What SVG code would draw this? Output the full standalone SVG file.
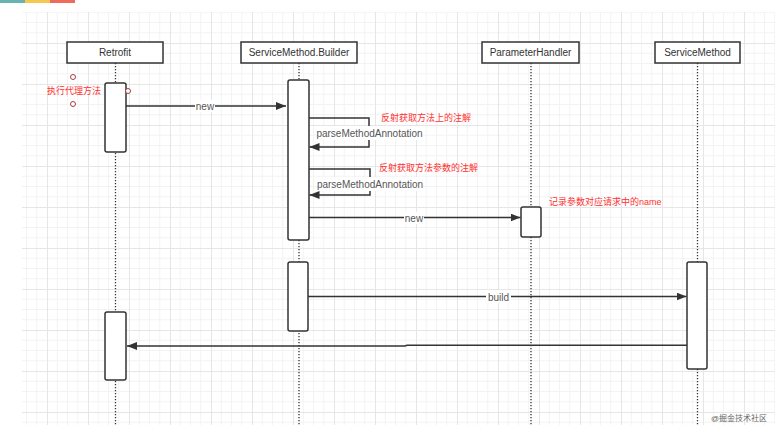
<svg xmlns="http://www.w3.org/2000/svg" width="775" height="430" viewBox="0 0 775 430">
<style>
.box{fill:#fff;stroke:#333;stroke-width:1.5}
.act{fill:#fff;stroke:#333;stroke-width:1.5}
.life{stroke:#333;stroke-width:1.3;stroke-dasharray:1.3 1.7;fill:none}
.msg{stroke:#333;stroke-width:1.5;fill:none}
.t{font-family:"Liberation Sans",Arial,sans-serif;font-size:10px;fill:#333;text-anchor:middle;dominant-baseline:central}
.lbl{font-family:"Liberation Sans",Arial,sans-serif;font-size:10px;fill:#555;text-anchor:middle;dominant-baseline:central}
.red{font-family:"Liberation Sans","Noto Sans CJK SC",sans-serif;font-size:9px;fill:#ff3030;dominant-baseline:central}
.dot{fill:#fff;stroke:#a04040;stroke-width:1}
</style>
<defs>
<pattern id="grid" patternUnits="userSpaceOnUse" x="6" y="2" width="41" height="41">
<path d="M10.25 0V41M20.5 0V41M30.75 0V41M0 10.25H41M0 20.5H41M0 30.75H41" stroke="#f3f3f3" stroke-width="1" fill="none"/>
<path d="M0.5 0V41M0 0.5H41" stroke="#e6e6e6" stroke-width="1" fill="none"/>
</pattern>
<marker id="arr" viewBox="0 0 10 8" refX="10" refY="4" markerWidth="10" markerHeight="8" markerUnits="userSpaceOnUse" orient="auto">
<path d="M0 0L10 4L0 8Z" fill="#333"/>
</marker>
</defs>
<rect width="775" height="430" fill="#fff"/>
<rect x="22" y="12" width="753" height="413" fill="url(#grid)"/>
<rect x="0" y="0" width="25" height="3" fill="#67b4b0"/>
<rect x="25" y="0" width="25" height="3" fill="#f5c94f"/>
<rect x="50" y="0" width="25" height="3" fill="#ef6b5b"/>

<g id="lifelines">
<path class="life" d="M115.5 63V425M299 63V425M531 63V425M697.5 63V425"/>
</g>

<g id="retrofit">
<rect class="box" x="67" y="42" width="96" height="21"/>
<text class="t" x="115" y="52.5">Retrofit</text>
<rect class="act" x="105" y="83" width="21" height="69" rx="2"/>
<rect class="act" x="105" y="312" width="21" height="68" rx="2"/>
<circle class="dot" cx="73" cy="77" r="2.5"/>
<circle class="dot" cx="73" cy="104" r="2.5"/>
<circle class="dot" cx="128" cy="91" r="2.5"/>
<text class="red" x="47" y="91">执行代理方法</text>
</g>

<g id="builder">
<rect class="box" x="241" y="42" width="116" height="21"/>
<text class="t" x="299" y="52.5">ServiceMethod.Builder</text>
<rect class="act" x="288" y="80" width="21" height="160" rx="2"/>
<rect class="act" x="288" y="262" width="20" height="69" rx="2"/>
</g>

<g id="parameterhandler">
<rect class="box" x="482" y="42" width="97" height="21"/>
<text class="t" x="530.5" y="52.5">ParameterHandler</text>
<rect class="act" x="521" y="207" width="20" height="30" rx="2"/>
<text class="red" x="549" y="202">记录参数对应请求中的name</text>
</g>

<g id="servicemethod">
<rect class="box" x="655" y="42" width="85" height="21"/>
<text class="t" x="697.5" y="52.5">ServiceMethod</text>
<rect class="act" x="687" y="262" width="20" height="107" rx="2"/>
</g>

<g id="connectors">
<path class="msg" d="M126 106H286" marker-end="url(#arr)"/>
<rect x="195" y="100" width="20" height="12" fill="#fff"/>
<text class="lbl" x="205" y="106">new</text>

<path class="msg" d="M309 118H369V147H309.5" marker-end="url(#arr)"/>
<rect x="317" y="126" width="105" height="14" fill="#fff"/>
<text class="lbl" x="369.5" y="133">parseMethodAnnotation</text>
<text class="red" x="381" y="118">反射获取方法上的注解</text>

<path class="msg" d="M309 169H370V195H309.5" marker-end="url(#arr)"/>
<rect x="318" y="177" width="105" height="14" fill="#fff"/>
<text class="lbl" x="370" y="184">parseMethodAnnotation</text>
<text class="red" x="379" y="168">反射获取方法参数的注解</text>

<path class="msg" d="M309 217.5H520.5" marker-end="url(#arr)"/>
<rect x="404" y="212" width="20" height="12" fill="#fff"/>
<text class="lbl" x="414" y="218">new</text>

<path class="msg" d="M308 296.5H686.5" marker-end="url(#arr)"/>
<rect x="486" y="290" width="25" height="13" fill="#fff"/>
<text class="lbl" x="498.5" y="297">build</text>

<path class="msg" d="M687 345.3H407L405 346H127" marker-end="url(#arr)"/>
</g>

<text x="711" y="418" style="font-family:'Liberation Sans','Noto Sans CJK SC',sans-serif;font-size:8px;fill:#666;dominant-baseline:central">@掘金技术社区</text>
</svg>
